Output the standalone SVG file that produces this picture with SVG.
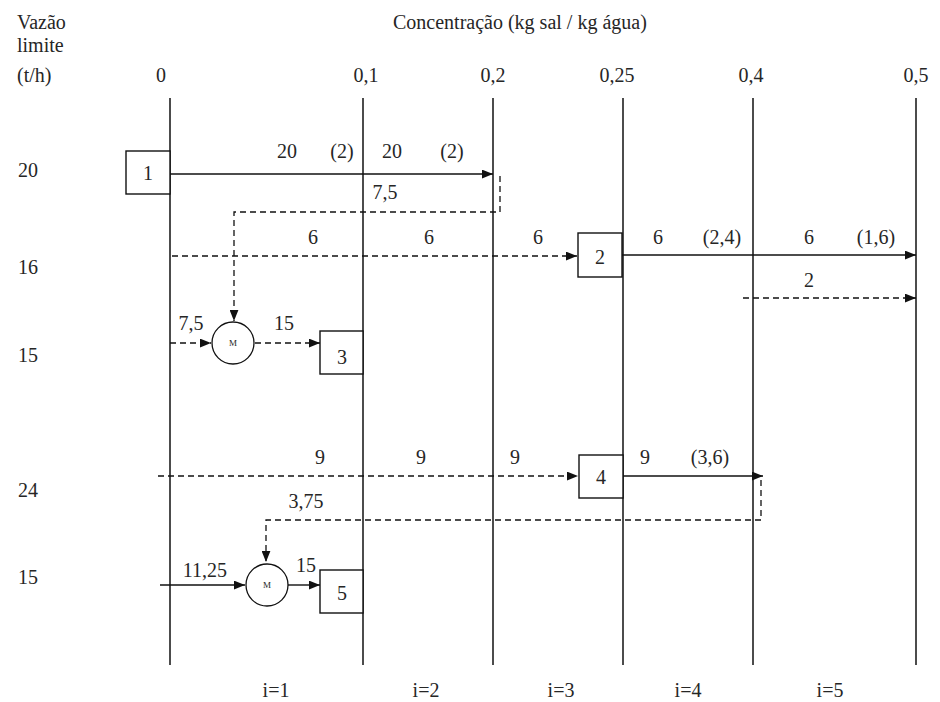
<svg xmlns="http://www.w3.org/2000/svg" width="940" height="702" viewBox="0 0 940 702" font-family="'Liberation Serif', 'DejaVu Serif', 'Times New Roman', serif">
<style>
text{font-family:"Liberation Serif","DejaVu Serif","Times New Roman",serif;font-size:20px;fill:#262626;}
.t{text-anchor:middle;}
.axis{stroke:#111;stroke-width:1.5;fill:none;}
.box{fill:#fff;stroke:#111;stroke-width:1.4;}
.mix{fill:#fff;stroke:#111;stroke-width:1.3;}
.sol{stroke:#111;stroke-width:1.4;fill:none;}
.dash{stroke:#111;stroke-width:1.3;fill:none;stroke-dasharray:6 4;}
.m{font-size:9px;text-anchor:middle;}
</style>
<defs>
<marker id="arr" viewBox="0 0 10 8" refX="10" refY="4" markerWidth="11" markerHeight="9" orient="auto" markerUnits="userSpaceOnUse">
<path d="M0,0 L10,4 L0,8 z" fill="#111"/>
</marker>
</defs>
<rect width="940" height="702" fill="#fff"/>
<g id="header">
<text x="17" y="29">Vazão</text>
<text x="17" y="52">limite</text>
<text x="17" y="82">(t/h)</text>
<text x="393" y="29">Concentração (kg sal / kg água)</text>
<text class="t" x="161" y="82">0</text>
<text class="t" x="366" y="82">0,1</text>
<text class="t" x="493" y="82">0,2</text>
<text class="t" x="617" y="82">0,25</text>
<text class="t" x="751" y="82">0,4</text>
<text class="t" x="916" y="82">0,5</text>
<text x="18" y="177">20</text>
<text x="18" y="274">16</text>
<text x="18" y="362">15</text>
<text x="18" y="497">24</text>
<text x="18" y="584">15</text>
<text class="t" x="276" y="697">i=1</text>
<text class="t" x="426" y="697">i=2</text>
<text class="t" x="561" y="697">i=3</text>
<text class="t" x="688" y="697">i=4</text>
<text class="t" x="830" y="697">i=5</text>
</g>
<g id="axes">
<line class="axis" x1="170" y1="98" x2="170" y2="665"/>
<line class="axis" x1="363" y1="98" x2="363" y2="665"/>
<line class="axis" x1="493" y1="98" x2="493" y2="665"/>
<line class="axis" x1="623" y1="98" x2="623" y2="665"/>
<line class="axis" x1="753" y1="98" x2="753" y2="665"/>
<line class="axis" x1="916" y1="98" x2="916" y2="665"/>
</g>
<g id="connectors">
<path class="sol" d="M170,174 H493" marker-end="url(#arr)"/>
<path class="dash" d="M500,176 V212 H234 V321" marker-end="url(#arr)"/>
<path class="dash" d="M172,256 H577" marker-end="url(#arr)"/>
<path class="sol" d="M622,255 H916" marker-end="url(#arr)"/>
<path class="dash" d="M743,298 H916" marker-end="url(#arr)"/>
<path class="dash" d="M170,343 H211" marker-end="url(#arr)"/>
<path class="dash" d="M255,343 H320" marker-end="url(#arr)"/>
<path class="dash" d="M158,476 H578" marker-end="url(#arr)"/>
<path class="sol" d="M622,476 H763" marker-end="url(#arr)"/>
<path class="dash" d="M761,480 V520 H266 V562" marker-end="url(#arr)"/>
<path class="sol" d="M160,585 H245" marker-end="url(#arr)"/>
<path class="sol" d="M288,585 H320" marker-end="url(#arr)"/>
</g>
<g id="labels">
<text class="t" x="287" y="158">20</text>
<text class="t" x="342" y="158">(2)</text>
<text class="t" x="392" y="158">20</text>
<text class="t" x="452" y="158">(2)</text>
<text class="t" x="385" y="199">7,5</text>
<text class="t" x="313" y="244">6</text>
<text class="t" x="429" y="244">6</text>
<text class="t" x="538" y="244">6</text>
<text class="t" x="658" y="244">6</text>
<text class="t" x="722" y="244">(2,4)</text>
<text class="t" x="809" y="244">6</text>
<text class="t" x="876" y="244">(1,6)</text>
<text class="t" x="809" y="287">2</text>
<text class="t" x="191" y="330">7,5</text>
<text class="t" x="284" y="330">15</text>
<text class="t" x="320" y="464">9</text>
<text class="t" x="421" y="464">9</text>
<text class="t" x="515" y="464">9</text>
<text class="t" x="645" y="464">9</text>
<text class="t" x="710" y="464">(3,6)</text>
<text class="t" x="306" y="508">3,75</text>
<text class="t" x="205" y="577">11,25</text>
<text class="t" x="306" y="572">15</text>
</g>
<g id="node1"><rect class="box" x="126" y="151" width="44" height="43"/><text class="t" x="148" y="180">1</text></g>
<g id="node2"><rect class="box" x="578" y="233" width="44" height="44"/><text class="t" x="600" y="264">2</text></g>
<g id="node3"><rect class="box" x="320" y="331" width="43" height="43"/><text class="t" x="342" y="364">3</text></g>
<g id="node4"><rect class="box" x="579" y="455" width="44" height="43"/><text class="t" x="601" y="484">4</text></g>
<g id="node5"><rect class="box" x="320" y="570" width="43" height="43"/><text class="t" x="342" y="600">5</text></g>
<g id="mixer1"><circle class="mix" cx="233" cy="343" r="21"/><text class="m" x="233" y="346">M</text></g>
<g id="mixer2"><circle class="mix" cx="267" cy="585" r="21"/><text class="m" x="267" y="588">M</text></g>
</svg>
